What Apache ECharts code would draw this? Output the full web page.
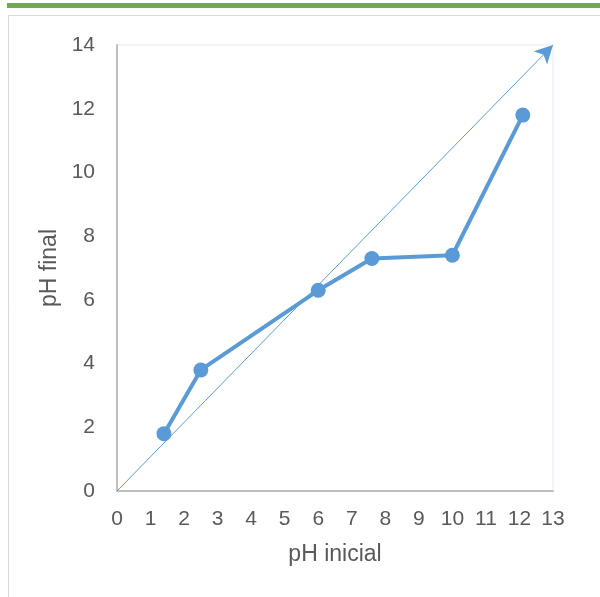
<!DOCTYPE html>
<html><head><meta charset="utf-8">
<script src="https://cdn.jsdelivr.net/npm/echarts@6/dist/echarts.min.js"></script>
<style>html,body{margin:0;padding:0;background:#fff}#c{width:600px;height:597px}</style>
</head><body><div id="c"></div>
<script>
const phInicial = [1.4, 2.5, 6.0, 7.6, 10.0, 12.1];
const phFinal = [1.8, 3.8, 6.3, 7.3, 7.4, 11.8];
const refLine = [[0, 0], [13, 14]];
const xTicks = [0,1,2,3,4,5,6,7,8,9,10,11,12,13];
const yTicks = [0,2,4,6,8,10,12,14];

const chart = echarts.init(document.getElementById('c'));
const font = 'Liberation Sans, Arial, sans-serif';
chart.setOption({
  animation: false,
  grid: {left: 117, right: 47, top: 45, bottom: 106, show: true, borderColor: '#e4ecf6', borderWidth: 1},
  graphic: [
    {type: 'rect', shape: {x: 7, y: 3, width: 593, height: 5}, style: {fill: '#70ad47'}},
    {type: 'line', shape: {x1: 8.5, y1: 15.5, x2: 8.5, y2: 597}, style: {stroke: '#d9d9d9', lineWidth: 1}},
    {type: 'line', shape: {x1: 8.5, y1: 15.5, x2: 600, y2: 15.5}, style: {stroke: '#d9d9d9', lineWidth: 1}}
  ],
  xAxis: {
    type: 'value', min: 0, max: 13, interval: 1,
    name: 'pH inicial', nameLocation: 'middle', nameGap: 52,
    nameTextStyle: {fontFamily: font, fontSize: 23, color: '#595959'},
    axisLine: {show: true, lineStyle: {color: '#bfbfbf', width: 2}},
    axisTick: {show: false}, splitLine: {show: false},
    axisLabel: {fontFamily: font, fontSize: 21, color: '#595959', margin: 18,
      formatter: v => xTicks.includes(v) ? String(v) : ''}
  },
  yAxis: {
    type: 'value', min: 0, max: 14, interval: 2,
    name: 'pH final', nameLocation: 'middle', nameGap: 55, nameRotate: 90,
    nameTextStyle: {fontFamily: font, fontSize: 23, color: '#595959'},
    axisLine: {show: true, lineStyle: {color: '#bfbfbf', width: 2}},
    axisTick: {show: false}, splitLine: {show: false},
    axisLabel: {fontFamily: font, fontSize: 21, color: '#595959', margin: 22,
      formatter: v => yTicks.includes(v) ? String(v) : ''}
  },
  series: [
    {
      type: 'line', data: [], silent: true,
      markLine: {
        silent: true, clip: false, symbol: ['none', 'arrow'], symbolSize: [14, 18],
        label: {show: false},
        lineStyle: {color: '#5b9bd5', width: 1, type: 'solid'},
        data: [[{coord: refLine[0]}, {coord: refLine[1]}]]
      }
    },
    {
      type: 'line',
      data: phInicial.map((x, i) => [x, phFinal[i]]),
      symbol: 'circle', symbolSize: 15,
      lineStyle: {color: '#5b9bd5', width: 4},
      itemStyle: {color: '#5b9bd5'}
    }
  ]
});
</script></body></html>
